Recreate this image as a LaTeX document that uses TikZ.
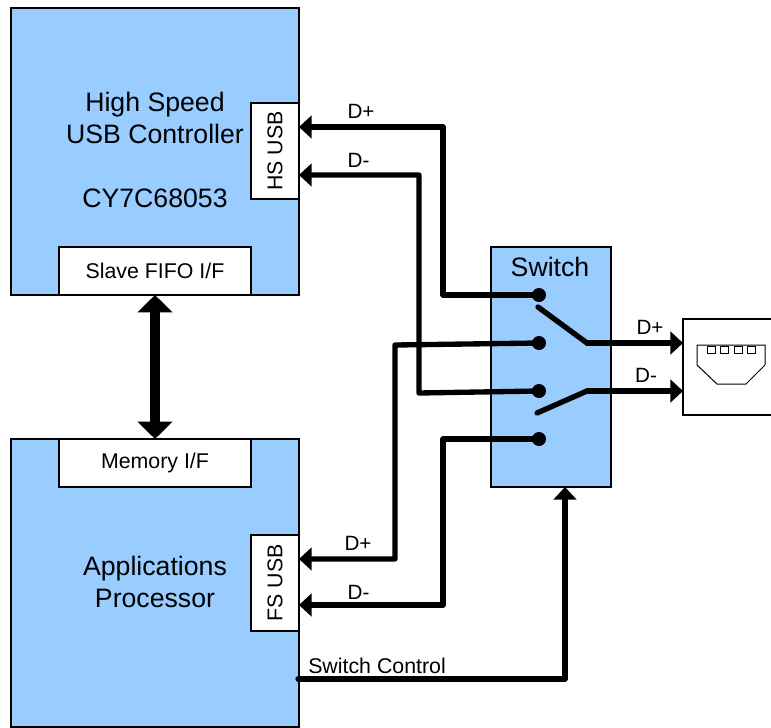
\documentclass[tikz,border=0pt]{standalone}
\usepackage{graphicx}
\usepackage{fontspec}
\setmainfont{Liberation Sans}
\usetikzlibrary{arrows.meta}
\definecolor{chipblue}{HTML}{99CCFF}
\tikzset{
	chip/.style={draw, line width=1.5pt, fill=chipblue, inner sep=0, outer sep=0},
	iface/.style={draw, line width=1.5pt, fill=white, inner sep=0, outer sep=0, font=\fontsize{16}{19}\selectfont},
	bigtext/.style={font=\fontsize{20}{24}\selectfont, align=center, inner sep=0},
	wirelabel/.style={font=\fontsize{15.5}{18}\selectfont, inner sep=0},
	wire/.style={line width=4pt, line join=round, line cap=round},
	sigarrow/.style={wire, -{Triangle[length=9.5pt, width=17pt]}},
	contact/.style={circle, fill, inner sep=0, minimum size=10.5pt}
}
\begin{document}
\begin{tikzpicture}[x=.75pt, y=-.75pt]
			\useasboundingbox (0, 0) rectangle (771, 728);
			\clip (0, 0) rectangle (771, 728);
			\node [chip, minimum width=216pt, minimum height=215.25pt] (usbchip) at (155, 151.5) {};
			\node [chip, minimum width=216pt, minimum height=216pt] (appchip) at (155, 583) {};
			\node [chip, minimum width=90pt, minimum height=180pt] (switchbox) at (551, 367) {};
			\node [iface, minimum width=36pt, minimum height=72pt] (hsusb) at (275, 151) {\rotatebox{90}{HS USB}};
			\node [iface, minimum width=36pt, minimum height=72pt] (fsusb) at (275, 583) {\rotatebox{90}{FS USB}};
			\node [iface, minimum width=144pt, minimum height=36pt] (slavefifo) at (155, 271) {Slave FIFO I/F};
			\node [iface, minimum width=144pt, minimum height=36pt] (memoryif) at (155, 463) {Memory I/F};
			\node [bigtext] (usbtitle) at (155, 118) {High Speed\\USB Controller};
			\node [bigtext] (partno) at (155, 198) {CY7C68053};
			\node [bigtext] (apptitle) at (155, 582) {Applications\\Processor};
			\node [bigtext] (switchtitle) at (550, 267) {Switch};
			% connector
			\node [draw, line width=1.5pt, fill=white, inner sep=0, outer sep=0, minimum width=75pt, minimum height=72pt] (usbport) at (733, 367) {};
			\draw [line width=.75pt] (697, 345)--(765, 345)--(765, 365)--(746, 384)--(717, 384)--(697, 365)--cycle;
			\foreach \x in {711, 724.5, 738, 751.5}
				\draw [line width=.75pt] (\x-4, 346) rectangle (\x+4, 353);
			% switch contacts
			\node [contact] (contacta) at (539, 295) {};
			\node [contact] (contactb) at (539, 343) {};
			\node [contact] (contactc) at (539, 391) {};
			\node [contact] (contactd) at (539, 439) {};
			\coordinate (bladea) at (538, 307);
			\coordinate (bladeb) at (537, 413);
			\coordinate (hingea) at (587, 343);
			\coordinate (hingeb) at (587, 391);
			\coordinate (hsplus) at (443, 127);
			\coordinate (hsminus) at (419, 175);
			\coordinate (fsplus) at (395, 559);
			\coordinate (fsminus) at (443, 605);
			\coordinate (ctrlstart) at (298, 679);
			\coordinate (ctrlbend) at (565, 679);
			% wires
			\draw [sigarrow] (contacta.center) -| (hsplus) -- (hsusb.east |- hsplus);
			\draw [sigarrow] (contactc.center) -- (419, 393) -- (hsminus) -- (hsusb.east |- hsminus);
			\draw [sigarrow] (contactb.center) -- (395, 345) -- (fsplus) -- (fsusb.east |- fsplus);
			\draw [sigarrow] (contactd.center) -| (fsminus) -- (fsusb.east |- fsminus);
			\draw [wire] (bladea) -- (hingea);
			\draw [wire] (bladeb) -- (hingeb);
			\draw [sigarrow] (hingea) -- (usbport.west |- hingea);
			\draw [sigarrow] (hingeb) -- (usbport.west |- hingeb);
			\draw [sigarrow] (ctrlstart) -- (ctrlbend) -- (switchbox.south -| ctrlbend);
			\draw [line width=7.5pt, {Triangle[length=13pt, width=25.5pt]}-{Triangle[length=13pt, width=25.5pt]}] (slavefifo.south) -- (memoryif.north);
			% labels
			\node [wirelabel] (hsplustext) at (361, 111) {D+};
			\node [wirelabel] (hsminustext) at (358.5, 160) {D-};
			\node [wirelabel] (fsplustext) at (358, 543) {D+};
			\node [wirelabel] (fsminustext) at (358.5, 592) {D-};
			\node [wirelabel] (outplustext) at (650, 327) {D+};
			\node [wirelabel] (outminustext) at (646, 375) {D-};
			\node [wirelabel, font=\fontsize{16}{19}\selectfont, anchor=west] (ctrltext) at (308, 666) {Switch Control};
		\end{tikzpicture}
\end{document}
